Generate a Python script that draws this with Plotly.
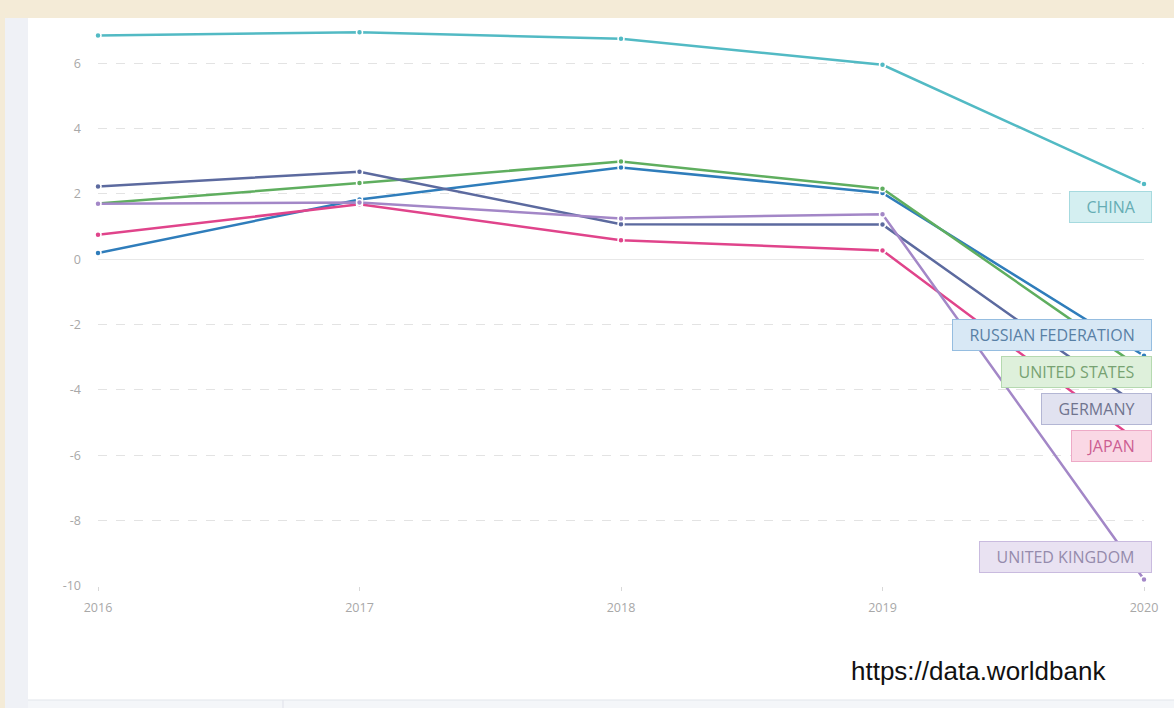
import plotly.graph_objects as go

years = [2016, 2017, 2018, 2019, 2020]
countries = ["CHINA", "RUSSIAN FEDERATION", "UNITED STATES", "GERMANY", "JAPAN", "UNITED KINGDOM"]
china = [6.85, 6.95, 6.75, 5.95, 2.3]
russia = [0.19, 1.83, 2.81, 2.03, -2.95]
united_states = [1.71, 2.33, 2.99, 2.16, -3.4]
germany = [2.23, 2.68, 1.07, 1.06, -4.6]
japan = [0.75, 1.68, 0.58, 0.27, -5.7]
united_kingdom = [1.7, 1.74, 1.25, 1.38, -9.8]
y_ticks = [-10, -8, -6, -4, -2, 0, 2, 4, 6]

series = [china, russia, united_states, germany, japan, united_kingdom]
line_colors = ["#52bac4", "#2f7dbb", "#5fae5f", "#5c6a9f", "#e0448b", "#a387c7"]
label_bg = ["#d4eff1", "#d8e8f5", "#def0db", "#e1e2f0", "#fad8e5", "#e9e2f2"]
label_border = ["#a6dadf", "#95bde0", "#b5d9b0", "#b3b6d4", "#eeaac7", "#c9bbdf"]
label_text = ["#66adb4", "#5880a5", "#77a272", "#70748f", "#cc5e92", "#958bac"]
label_shift = [-23, 21, -2, 1, 0, 22]

W, H = 1174, 708
L, R, T, B = 98, 30, 24, 122
pw, ph = W - L - R, H - T - B


def px(x):
    return (x - L) / pw


def py(y):
    return 1 - (y - T) / ph


fig = go.Figure()
for name, vals, c in zip(countries, series, line_colors):
    fig.add_trace(go.Scatter(
        x=years, y=vals, mode="lines+markers", name=name,
        line=dict(color=c, width=2.5),
        marker=dict(size=6, color=c, line=dict(color="white", width=1.5)),
        cliponaxis=False, showlegend=False,
    ))

pad = "&nbsp;" * 3
annotations = []
for i, name in enumerate(countries):
    annotations.append(dict(
        x=years[-1], y=series[i][-1], xref="x", yref="y",
        text=pad + name + pad, showarrow=False,
        xanchor="right", yanchor="middle", xshift=8, yshift=label_shift[i],
        bgcolor=label_bg[i], bordercolor=label_border[i], borderwidth=1, borderpad=4,
        font=dict(family="Open Sans", size=16, color=label_text[i]),
    ))
annotations.append(dict(
    x=px(849), y=py(671), xref="paper", yref="paper",
    text="https://data.worldbank", showarrow=False, xanchor="left", yanchor="middle",
    font=dict(family="Liberation Sans, Arial", size=26, color="#111111"),
))

shapes = [
    dict(type="rect", xref="paper", yref="paper", x0=px(0), x1=px(W), y0=py(0), y1=py(H),
         fillcolor="#f4ebd7", line=dict(width=0), layer="below"),
    dict(type="rect", xref="paper", yref="paper", x0=px(5), x1=px(W), y0=py(18), y1=py(H),
         fillcolor="#eff1f6", line=dict(width=0), layer="below"),
    dict(type="rect", xref="paper", yref="paper", x0=px(28), x1=px(W), y0=py(18), y1=py(700),
         fillcolor="#ffffff", line=dict(width=0), layer="below"),
    dict(type="rect", xref="paper", yref="paper", x0=px(28), x1=px(W), y0=py(700), y1=py(H),
         fillcolor="#f4f6f9", line=dict(width=0), layer="below"),
    dict(type="line", xref="paper", yref="paper", x0=px(28), x1=px(W), y0=py(700), y1=py(700),
         line=dict(color="#e2e5eb", width=1.2), layer="below"),
    dict(type="line", xref="paper", yref="paper", x0=px(283), x1=px(283), y0=py(700), y1=py(H),
         line=dict(color="#e2e5eb", width=1.2), layer="below"),
]

fig.update_layout(
    width=W, height=H,
    margin=dict(l=L, r=R, t=T, b=B, pad=0),
    paper_bgcolor="#ffffff", plot_bgcolor="rgba(0,0,0,0)",
    shapes=shapes, annotations=annotations,
    font=dict(family="Open Sans", size=13, color="#a8a8a8"),
    xaxis=dict(
        range=[years[0], years[-1]], tickmode="array", tickvals=years,
        ticktext=[str(y) for y in years], showgrid=False, zeroline=False,
        showline=False, ticks="outside", ticklen=4, tickcolor="#d8d8d8",
        ticklabelstandoff=6,
        tickfont=dict(family="Open Sans", size=12.5, color="#a8a8a8"),
    ),
    yaxis=dict(
        range=[-10, 7.2], tickmode="array", tickvals=y_ticks,
        ticktext=[str(v) for v in y_ticks],
        showgrid=True, gridcolor="#e3e3e3", griddash="dash", gridwidth=1,
        zeroline=True, zerolinecolor="#e8e8e8", zerolinewidth=1.2,
        showline=False, ticks="", ticklabelstandoff=16,
        tickfont=dict(family="Open Sans", size=12.5, color="#a8a8a8"),
    ),
)

fig.write_html(
    "out.html",
    config={"displayModeBar": False},
    post_script="document.body.style.margin='0px';document.body.style.padding='0px';",
)
